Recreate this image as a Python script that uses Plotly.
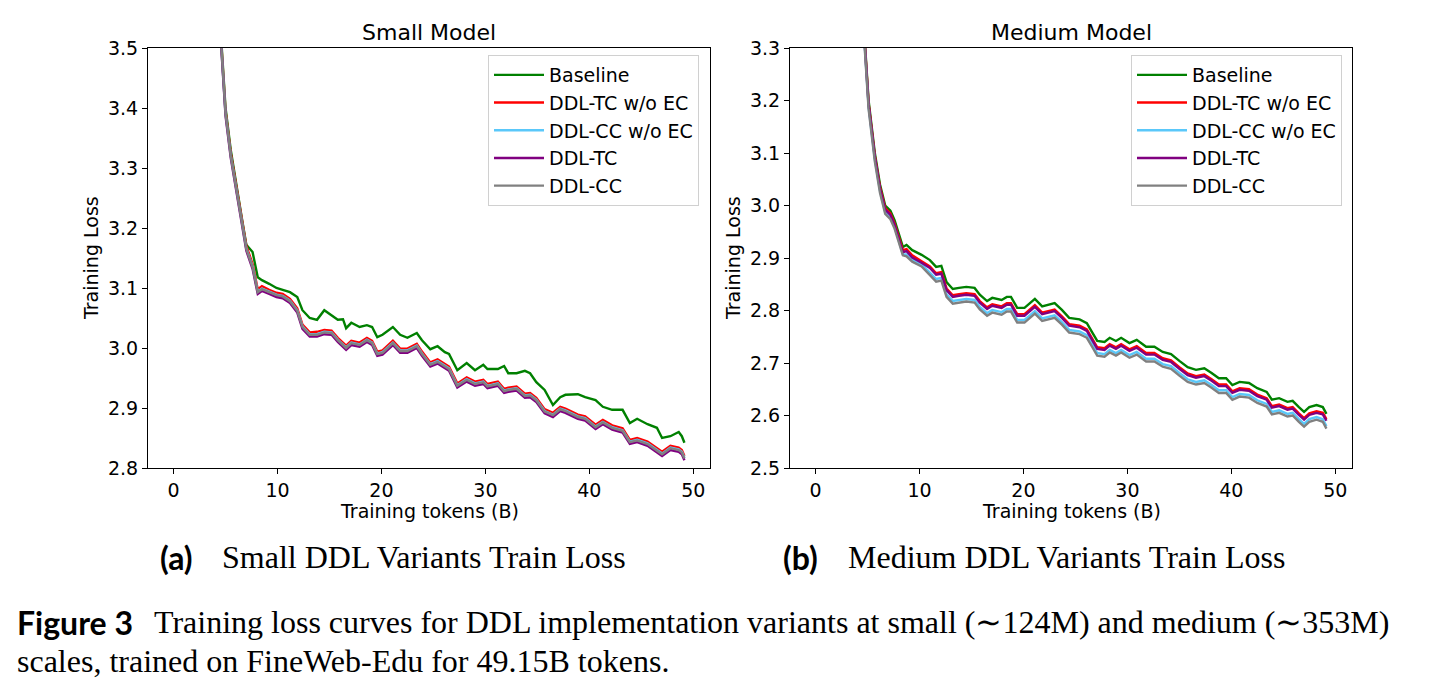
import plotly.graph_objects as go

# ---------------- data ----------------
series_names = ["Baseline", "DDL-TC w/o EC", "DDL-CC w/o EC", "DDL-TC", "DDL-CC"]
series_colors = ["#008000", "#ff0000", "#5ac8fa", "#800080", "#808080"]

small_tokens = [4.2, 4.6, 5.0, 5.5, 5.9, 6.3, 6.6, 7.0, 7.3, 7.6, 8.1, 8.5, 9.2, 9.9, 10.5,
                11.2, 11.9, 12.4, 13.1, 13.8, 14.5, 15.2, 15.8, 16.3, 16.6, 17.1, 17.9, 18.6, 19.1, 19.6,
                20.1, 21.1, 21.8, 22.5, 23.4, 23.9, 24.7, 25.4, 26.1, 26.5, 27.3, 28.2, 29.0, 29.8, 30.2,
                31.2, 31.8, 32.2, 33.0, 33.8, 34.3, 34.9, 35.7, 36.5, 37.2, 37.7, 38.9, 39.6, 40.6, 41.3,
                42.2, 43.2, 43.9, 44.6, 45.6, 46.5, 47.0, 47.8, 48.6, 48.9, 49.15]

small_baseline = [3.62, 3.50, 3.40, 3.33, 3.29, 3.245, 3.213, 3.172, 3.165, 3.160,
                  3.118, 3.113, 3.107, 3.100, 3.097, 3.093, 3.085, 3.063, 3.050, 3.047,
                  3.063, 3.055, 3.047, 3.048, 3.033, 3.042, 3.035, 3.038, 3.035, 3.018,
                  3.022, 3.035, 3.022, 3.017, 3.025, 3.013, 2.998, 3.003, 2.993, 2.990,
                  2.963, 2.975, 2.963, 2.972, 2.965, 2.965, 2.970, 2.958, 2.958, 2.962,
                  2.958, 2.943, 2.930, 2.905, 2.918, 2.922, 2.923, 2.918, 2.913, 2.902,
                  2.897, 2.897, 2.875, 2.882, 2.873, 2.867, 2.850, 2.853, 2.860, 2.853,
                  2.842]

small_tc_noec = [3.615, 3.495, 3.395, 3.325, 3.285, 3.245, 3.21, 3.17, 3.155, 3.14,
                 3.098, 3.103, 3.097, 3.092, 3.090, 3.082, 3.066, 3.039, 3.026, 3.027,
                 3.030, 3.029, 3.017, 3.009, 3.004, 3.012, 3.009, 3.017, 3.012, 2.994,
                 2.996, 3.012, 2.999, 2.999, 3.007, 2.994, 2.976, 2.981, 2.974, 2.969,
                 2.941, 2.951, 2.944, 2.947, 2.940, 2.944, 2.932, 2.934, 2.936, 2.924,
                 2.925, 2.917, 2.898, 2.892, 2.902, 2.899, 2.889, 2.886, 2.872, 2.880,
                 2.871, 2.866, 2.847, 2.850, 2.844, 2.834, 2.827, 2.837, 2.834, 2.830,
                 2.820]

small_cc_noec = [3.611, 3.491, 3.391, 3.321, 3.281, 3.241, 3.206, 3.166, 3.151, 3.136,
                 3.094, 3.099, 3.094, 3.089, 3.087, 3.079, 3.063, 3.036, 3.023, 3.023,
                 3.027, 3.026, 3.014, 3.006, 3.001, 3.009, 3.006, 3.014, 3.009, 2.991,
                 2.993, 3.009, 2.996, 2.996, 3.004, 2.991, 2.973, 2.978, 2.971, 2.966,
                 2.938, 2.948, 2.941, 2.944, 2.937, 2.941, 2.929, 2.931, 2.933, 2.921,
                 2.922, 2.914, 2.895, 2.889, 2.899, 2.896, 2.886, 2.883, 2.869, 2.877,
                 2.868, 2.863, 2.844, 2.847, 2.841, 2.831, 2.824, 2.834, 2.831, 2.827,
                 2.817]

small_tc = [3.607, 3.487, 3.387, 3.317, 3.277, 3.237, 3.202, 3.162, 3.147, 3.132,
            3.090, 3.095, 3.090, 3.085, 3.083, 3.075, 3.059, 3.032, 3.019, 3.019,
            3.023, 3.022, 3.010, 3.002, 2.997, 3.005, 3.002, 3.010, 3.005, 2.987,
            2.989, 3.005, 2.992, 2.992, 3.000, 2.987, 2.969, 2.974, 2.967, 2.962,
            2.934, 2.944, 2.937, 2.940, 2.933, 2.937, 2.925, 2.927, 2.929, 2.917,
            2.918, 2.910, 2.891, 2.885, 2.895, 2.892, 2.882, 2.879, 2.865, 2.873,
            2.864, 2.859, 2.840, 2.843, 2.837, 2.827, 2.820, 2.830, 2.827, 2.823,
            2.813]

small_cc = [3.61, 3.49, 3.39, 3.32, 3.28, 3.24, 3.205, 3.165, 3.150, 3.135,
            3.093, 3.098, 3.093, 3.088, 3.086, 3.078, 3.062, 3.035, 3.022, 3.022,
            3.026, 3.025, 3.013, 3.005, 3.000, 3.008, 3.005, 3.013, 3.008, 2.990,
            2.992, 3.008, 2.995, 2.995, 3.003, 2.990, 2.972, 2.977, 2.970, 2.965,
            2.937, 2.947, 2.940, 2.943, 2.936, 2.940, 2.928, 2.930, 2.932, 2.920,
            2.921, 2.913, 2.894, 2.888, 2.898, 2.895, 2.885, 2.882, 2.868, 2.876,
            2.867, 2.862, 2.843, 2.846, 2.840, 2.830, 2.823, 2.833, 2.830, 2.826,
            2.816]

medium_tokens = [4.3, 4.8, 5.1, 5.7, 6.2, 6.7, 7.2, 7.6, 8.1, 8.4,
                 8.75, 9.3, 10.2, 11.0, 11.6, 12.1, 12.6, 13.2, 13.8, 14.5,
                 15.3, 15.8, 16.5, 17.0, 17.9, 18.4, 18.8, 19.4, 20.1, 21.1,
                 21.8, 23.0, 23.7, 24.4, 25.4, 26.1, 26.6, 27.1, 27.8, 28.3,
                 28.9, 29.4, 30.2, 30.9, 31.8, 32.6, 33.4, 34.2, 35.0, 35.8,
                 36.6, 37.4, 38.1, 38.8, 39.5, 40.1, 40.8, 41.7, 42.5, 43.4,
                 43.9, 44.6, 45.4, 45.9, 46.5, 47.0, 47.5, 48.2, 48.8, 49.15]

medium_baseline = [3.45, 3.30, 3.20, 3.10, 3.04, 3.00, 2.99, 2.972, 2.94, 2.921,
                   2.925, 2.915, 2.906, 2.896, 2.883, 2.885, 2.854, 2.841, 2.843, 2.845,
                   2.843, 2.830, 2.818, 2.824, 2.820, 2.826, 2.826, 2.805, 2.805, 2.822,
                   2.808, 2.814, 2.801, 2.786, 2.783, 2.776, 2.759, 2.742, 2.740, 2.748,
                   2.742, 2.748, 2.738, 2.744, 2.731, 2.731, 2.721, 2.717, 2.704, 2.692,
                   2.687, 2.690, 2.681, 2.671, 2.671, 2.658, 2.664, 2.662, 2.652, 2.645,
                   2.630, 2.633, 2.626, 2.628, 2.616, 2.607, 2.616, 2.620, 2.616, 2.603]

medium_tc_noec = [3.445, 3.295, 3.195, 3.095, 3.035, 2.995, 2.985, 2.966, 2.934, 2.915,
                  2.917, 2.905, 2.894, 2.884, 2.871, 2.873, 2.842, 2.829, 2.831, 2.833,
                  2.831, 2.818, 2.806, 2.812, 2.808, 2.814, 2.814, 2.793, 2.793, 2.810,
                  2.796, 2.802, 2.789, 2.774, 2.771, 2.764, 2.747, 2.730, 2.728, 2.736,
                  2.730, 2.736, 2.726, 2.732, 2.719, 2.719, 2.709, 2.705, 2.692, 2.680,
                  2.675, 2.678, 2.669, 2.659, 2.659, 2.646, 2.652, 2.650, 2.640, 2.633,
                  2.618, 2.621, 2.614, 2.616, 2.604, 2.595, 2.604, 2.608, 2.605, 2.593]

medium_cc_noec = [3.438, 3.288, 3.188, 3.088, 3.028, 2.988, 2.978, 2.960, 2.928, 2.907,
                  2.907, 2.897, 2.888, 2.873, 2.860, 2.862, 2.831, 2.818, 2.820, 2.822,
                  2.820, 2.807, 2.795, 2.801, 2.797, 2.803, 2.803, 2.782, 2.782, 2.799,
                  2.785, 2.791, 2.778, 2.763, 2.760, 2.753, 2.736, 2.719, 2.717, 2.725,
                  2.719, 2.725, 2.715, 2.721, 2.708, 2.708, 2.698, 2.694, 2.681, 2.669,
                  2.664, 2.667, 2.658, 2.648, 2.648, 2.635, 2.641, 2.639, 2.629, 2.622,
                  2.607, 2.610, 2.603, 2.605, 2.593, 2.584, 2.593, 2.597, 2.593, 2.580]

medium_tc = [3.442, 3.292, 3.192, 3.092, 3.032, 2.992, 2.982, 2.963, 2.931, 2.911,
             2.913, 2.901, 2.891, 2.881, 2.868, 2.870, 2.839, 2.826, 2.828, 2.830,
             2.828, 2.815, 2.803, 2.809, 2.805, 2.811, 2.811, 2.790, 2.790, 2.807,
             2.793, 2.799, 2.786, 2.771, 2.768, 2.761, 2.744, 2.727, 2.725, 2.733,
             2.727, 2.733, 2.723, 2.729, 2.716, 2.716, 2.706, 2.702, 2.689, 2.677,
             2.672, 2.675, 2.666, 2.656, 2.656, 2.643, 2.649, 2.647, 2.637, 2.630,
             2.615, 2.618, 2.611, 2.613, 2.601, 2.592, 2.601, 2.605, 2.602, 2.590]

medium_cc = [3.434, 3.284, 3.184, 3.084, 3.024, 2.984, 2.974, 2.956, 2.924, 2.905,
             2.903, 2.893, 2.884, 2.868, 2.855, 2.857, 2.826, 2.813, 2.815, 2.817,
             2.815, 2.802, 2.790, 2.796, 2.792, 2.798, 2.798, 2.777, 2.777, 2.794,
             2.780, 2.786, 2.773, 2.758, 2.755, 2.748, 2.731, 2.714, 2.712, 2.720,
             2.714, 2.720, 2.710, 2.716, 2.703, 2.703, 2.693, 2.689, 2.676, 2.664,
             2.659, 2.662, 2.653, 2.643, 2.643, 2.630, 2.636, 2.634, 2.624, 2.617,
             2.602, 2.605, 2.598, 2.600, 2.588, 2.579, 2.588, 2.592, 2.588, 2.575]

x_ticks = [0, 10, 20, 30, 40, 50]
small_y_ticks = [2.8, 2.9, 3.0, 3.1, 3.2, 3.3, 3.4, 3.5]
medium_y_ticks = [2.5, 2.6, 2.7, 2.8, 2.9, 3.0, 3.1, 3.2, 3.3]

panel_titles = ["Small Model", "Medium Model"]
sub_labels = ["(a)", "(b)"]
sub_captions = ["Small DDL Variants Train Loss", "Medium DDL Variants Train Loss"]
fig_label = "Figure 3"
caption_line1 = "Training loss curves for DDL implementation variants at small (∼124M) and medium (∼353M)"
caption_line2 = "scales, trained on FineWeb-Edu for 49.15B tokens."

# ---------------- figure ----------------
W, H = 1438, 689
def px(x):
    return x / W
def py(y):
    return 1 - y / H

fig = go.Figure()

small_series = [small_baseline, small_tc_noec, small_cc_noec, small_tc, small_cc]
medium_series = [medium_baseline, medium_tc_noec, medium_cc_noec, medium_tc, medium_cc]

for i, (name, col) in enumerate(zip(series_names, series_colors)):
    fig.add_trace(go.Scatter(x=small_tokens, y=small_series[i], mode="lines", name=name,
                             line=dict(color=col, width=2.4), xaxis="x", yaxis="y",
                             legend="legend", legendgroup="s" + str(i)))
for i, (name, col) in enumerate(zip(series_names, series_colors)):
    fig.add_trace(go.Scatter(x=medium_tokens, y=medium_series[i], mode="lines", name=name,
                             line=dict(color=col, width=2.4), xaxis="x2", yaxis="y2",
                             legend="legend2", legendgroup="m" + str(i)))

tick_font = dict(family="DejaVu Sans", size=19, color="black")
axis_common = dict(showline=True, mirror=True, linecolor="black", linewidth=1.2,
                   ticks="outside", ticklen=5, tickwidth=1.2, tickcolor="black",
                   showgrid=False, zeroline=False, tickfont=tick_font, automargin=False)

legend_common = dict(xanchor="left", yanchor="top",
                     font=dict(family="DejaVu Sans", size=19, color="black"),
                     bordercolor="#d0d0d0", borderwidth=1, bgcolor="white",
                     tracegroupgap=0, traceorder="grouped", itemwidth=50)

ydom = [py(468), py(48)]
fig.update_layout(
    template="none",
    width=W, height=H,
    margin=dict(l=0, r=0, t=0, b=0, pad=0),
    paper_bgcolor="white", plot_bgcolor="white",
    xaxis=dict(domain=[px(148), px(710)], range=[-2.46, 51.61], tickvals=x_ticks,
               anchor="y", **axis_common),
    yaxis=dict(domain=ydom, range=[2.8, 3.5], tickvals=small_y_ticks, tickformat=".1f",
               anchor="x", **axis_common),
    xaxis2=dict(domain=[px(790), px(1352)], range=[-2.46, 51.61], tickvals=x_ticks,
                anchor="y2", **axis_common),
    yaxis2=dict(domain=ydom, range=[2.5, 3.3], tickvals=medium_y_ticks, tickformat=".1f",
                anchor="x2", **axis_common),
    legend=dict(x=px(488), y=py(55), **legend_common),
    legend2=dict(x=px(1131), y=py(55), **legend_common),
    showlegend=True,
)

ann = []
label_font = dict(family="DejaVu Sans", size=19, color="black")
for k, (x0, x1) in enumerate([(148, 710), (790, 1352)]):
    cx = (x0 + x1) / 2
    ann.append(dict(x=px(cx), y=py(32), xref="paper", yref="paper", text=panel_titles[k],
                    showarrow=False, xanchor="center", yanchor="middle",
                    font=dict(family="DejaVu Sans", size=22, color="black")))
    ann.append(dict(x=px(cx), y=py(511), xref="paper", yref="paper", text="Training tokens (B)",
                    showarrow=False, xanchor="center", yanchor="middle", font=label_font))
    ann.append(dict(x=px(x0 - 57), y=py(258), xref="paper", yref="paper", text="Training Loss",
                    showarrow=False, xanchor="center", yanchor="middle", textangle=-90,
                    font=label_font))

serif = dict(family="Liberation Serif", size=32, color="black")
bold = dict(family="Lato", size=32, color="black", weight="bold")
for k, (lx, tx) in enumerate([(158, 220), (781, 846)]):
    ann.append(dict(x=px(lx), y=py(557), xref="paper", yref="paper", text="<b>" + sub_labels[k] + "</b>",
                    showarrow=False, xanchor="left", yanchor="middle", font=bold))
    ann.append(dict(x=px(tx), y=py(557), xref="paper", yref="paper", text=sub_captions[k],
                    showarrow=False, xanchor="left", yanchor="middle", font=serif))

ann.append(dict(x=px(15), y=py(622), xref="paper", yref="paper", text="<b>" + fig_label + "</b>",
                showarrow=False, xanchor="left", yanchor="middle", font=bold))
ann.append(dict(x=px(152), y=py(622), xref="paper", yref="paper", text=caption_line1,
                showarrow=False, xanchor="left", yanchor="middle", font=serif))
ann.append(dict(x=px(15), y=py(661), xref="paper", yref="paper", text=caption_line2,
                showarrow=False, xanchor="left", yanchor="middle", font=serif))

fig.update_layout(annotations=ann)

fig.write_html("out.html")
